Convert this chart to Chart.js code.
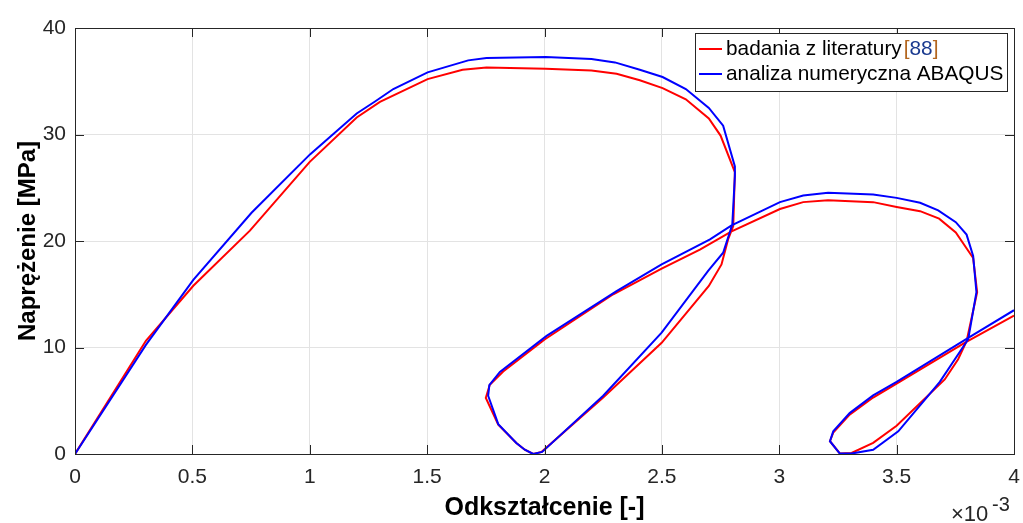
<!DOCTYPE html>
<html>
<head>
<meta charset="utf-8">
<script src="https://cdn.jsdelivr.net/npm/chart.js@4.4.1/dist/chart.umd.min.js"></script>
<style>
  html, body { margin: 0; padding: 0; background: #fff; }
  #wrap { width: 1023px; height: 523px; position: relative; }
</style>
</head>
<body>
<div id="wrap"><canvas id="stressChart" width="1023" height="523"></canvas></div>
<script>
// strain values are in units of 1e-3 (axis shows "x10^-3"), stress in MPa
const literatureStrain = [0, 0.302, 0.504, 0.745, 1.0, 1.2, 1.299, 1.502, 1.651, 1.753, 2.005, 2.2, 2.307, 2.406, 2.503, 2.602, 2.7, 2.75, 2.811, 2.804, 2.782, 2.754, 2.7, 2.499, 2.25, 1.988, 1.952, 1.916, 1.88, 1.803, 1.75, 1.767, 1.824, 2.002, 2.293, 2.499, 2.662, 2.797, 3.003, 3.102, 3.208, 3.4, 3.5, 3.6, 3.681, 3.752, 3.826, 3.843, 3.798, 3.762, 3.705, 3.5, 3.4, 3.308, 3.258, 3.216, 3.23, 3.3, 3.4, 3.5, 3.795, 4.0];
const literatureStress = [0, 10.63, 15.8, 20.97, 27.43, 31.6, 33.06, 35.2, 36.08, 36.3, 36.18, 36.0, 35.7, 35.1, 34.36, 33.3, 31.5, 29.9, 26.46, 21.4, 20.15, 17.8, 15.78, 10.44, 5.3, 0.2, 0.0, 0.4, 1.04, 2.75, 5.26, 6.5, 7.75, 10.78, 15.0, 17.4, 19.2, 20.9, 23.0, 23.65, 23.83, 23.65, 23.2, 22.8, 22.1, 20.8, 18.4, 15.2, 10.6, 8.9, 7.0, 2.65, 1.05, 0.1, 0.05, 1.2, 2.0, 3.7, 5.3, 6.6, 10.5, 13.0];

const abaqusStrain = [0, 0.302, 0.504, 0.752, 1.001, 1.2, 1.278, 1.356, 1.502, 1.675, 1.753, 2.005, 2.2, 2.3, 2.406, 2.503, 2.602, 2.7, 2.761, 2.811, 2.811, 2.8, 2.761, 2.697, 2.499, 2.25, 1.99, 1.952, 1.916, 1.88, 1.803, 1.76, 1.765, 1.81, 2.009, 2.307, 2.499, 2.705, 2.797, 3.003, 3.102, 3.208, 3.4, 3.5, 3.6, 3.677, 3.752, 3.798, 3.826, 3.84, 3.805, 3.684, 3.507, 3.4, 3.308, 3.258, 3.216, 3.23, 3.3, 3.4, 3.5, 3.805, 4.0];
const abaqusStress = [0, 10.25, 16.35, 22.65, 28.13, 31.97, 33.1, 34.27, 35.83, 36.96, 37.18, 37.27, 37.08, 36.77, 36.08, 35.4, 34.27, 32.5, 30.83, 27.0, 26.1, 21.55, 18.9, 17.2, 11.4, 5.47, 0.2, 0.0, 0.4, 1.04, 2.8, 5.47, 6.47, 7.7, 11.09, 15.3, 17.8, 20.15, 21.46, 23.65, 24.27, 24.52, 24.37, 24.05, 23.59, 22.87, 21.77, 20.6, 18.6, 15.2, 10.78, 6.78, 2.13, 0.4, 0.04, 0.04, 1.2, 2.13, 3.84, 5.5, 6.78, 10.9, 13.5];

const seriesNames = ['badania z literatury', 'analiza numeryczna ABAQUS'];
const citation = '88';
const xTitle = 'Odkształcenie [-]';
const yTitle = 'Naprężenie [MPa]';

const FONT = '"Liberation Sans", Arial, Helvetica, sans-serif';
const AXIS_COLOR = '#262626';

function toPoints(xs, ys) {
    return xs.map((x, i) => ({ x: x, y: ys[i] }));
}

function noPadding(s) {
    s.paddingLeft = 0;
    s.paddingRight = 0;
    s.paddingTop = 0;
    s.paddingBottom = 0;
}

const frame = {
    id: 'frame',
    afterDatasetsDraw(chart) {
        const ctx = chart.ctx;
        const a = chart.chartArea;
        const xs = chart.scales.x;
        const ys = chart.scales.y;
        const tick = 9;
        ctx.save();
        ctx.strokeStyle = AXIS_COLOR;
        ctx.lineWidth = 1;
        ctx.beginPath();
        xs.ticks.forEach(t => {
            const px = Math.round(xs.getPixelForValue(t.value)) + 0.5;
            ctx.moveTo(px, a.bottom); ctx.lineTo(px, a.bottom - tick);
            ctx.moveTo(px, a.top); ctx.lineTo(px, a.top + tick);
        });
        ys.ticks.forEach(t => {
            const py = Math.round(ys.getPixelForValue(t.value)) + 0.5;
            ctx.moveTo(a.left, py); ctx.lineTo(a.left + tick, py);
            ctx.moveTo(a.right, py); ctx.lineTo(a.right - tick, py);
        });
        ctx.stroke();
        ctx.strokeRect(Math.round(a.left) + 0.5, Math.round(a.top) + 0.5,
            Math.round(a.right - a.left), Math.round(a.bottom - a.top));
        ctx.restore();
    },
    afterDraw(chart) {
        const ctx = chart.ctx;
        const a = chart.chartArea;
        ctx.save();

        // axis titles
        ctx.fillStyle = '#000';
        ctx.textAlign = 'center';
        ctx.textBaseline = 'middle';
        ctx.font = 'bold 25px ' + FONT;
        ctx.fillText(xTitle, (a.left + a.right) / 2, 508);
        ctx.font = 'bold 24px ' + FONT;
        ctx.translate(28, (a.top + a.bottom) / 2);
        ctx.rotate(-Math.PI / 2);
        ctx.fillText(yTitle, 0, 0);
        ctx.setTransform(1, 0, 0, 1, 0, 0);

        // exponent
        ctx.fillStyle = AXIS_COLOR;
        ctx.textAlign = 'left';
        ctx.textBaseline = 'alphabetic';
        ctx.font = '22px ' + FONT;
        ctx.fillText('\u00d710', 951, 521);
        ctx.font = '20px ' + FONT;
        ctx.fillText('-3', 992, 511);

        // legend
        const box = { x: 695, y: 33, w: 312, h: 58 };
        ctx.fillStyle = '#fff';
        ctx.fillRect(box.x, box.y, box.w, box.h);
        ctx.strokeStyle = AXIS_COLOR;
        ctx.lineWidth = 1;
        ctx.strokeRect(box.x + 0.5, box.y + 0.5, box.w, box.h);
        ctx.font = '20.8px ' + FONT;
        ctx.textBaseline = 'middle';
        chart.data.datasets.forEach((ds, i) => {
            const cy = 49 + i * 25;
            ctx.strokeStyle = ds.borderColor;
            ctx.lineWidth = 2;
            ctx.beginPath();
            ctx.moveTo(699, cy); ctx.lineTo(722, cy);
            ctx.stroke();
            ctx.fillStyle = '#000';
            let tx = 726;
            ctx.fillText(seriesNames[i], tx, cy);
            if (i === 0) {
                tx += ctx.measureText(seriesNames[i]).width + 2;
                ctx.fillStyle = '#b3661f';
                ctx.fillText('[', tx, cy);
                tx += ctx.measureText('[').width;
                ctx.fillStyle = '#1a3a8f';
                ctx.fillText(citation, tx, cy);
                tx += ctx.measureText(citation).width;
                ctx.fillStyle = '#b3661f';
                ctx.fillText(']', tx, cy);
            }
        });
        ctx.restore();
    }
};

new Chart(document.getElementById('stressChart'), {
    type: 'scatter',
    data: {
        datasets: [{
            label: seriesNames[0],
            data: toPoints(literatureStrain, literatureStress),
            borderColor: '#ff0000',
            backgroundColor: '#ff0000',
            borderWidth: 2,
            showLine: true,
            pointRadius: 0,
            tension: 0,
            order: 2
        }, {
            label: seriesNames[1],
            data: toPoints(abaqusStrain, abaqusStress),
            borderColor: '#0000ff',
            backgroundColor: '#0000ff',
            borderWidth: 2,
            showLine: true,
            pointRadius: 0,
            tension: 0,
            order: 1
        }]
    },
    plugins: [frame],
    options: {
        responsive: false,
        animation: false,
        devicePixelRatio: 1,
        layout: { padding: { left: 0, right: 9, top: 28, bottom: 0 } },
        plugins: { legend: { display: false }, tooltip: { enabled: false } },
        scales: {
            x: {
                type: 'linear',
                min: 0,
                max: 4,
                afterFit: s => { s.height = 69; noPadding(s); },
                grid: { color: '#e3e3e3', drawTicks: false },
                border: { display: false },
                ticks: {
                    stepSize: 0.5,
                    padding: 11,
                    color: AXIS_COLOR,
                    font: { family: FONT, size: 21 },
                    maxRotation: 0,
                    callback: v => String(v)
                }
            },
            y: {
                type: 'linear',
                min: 0,
                max: 40,
                afterFit: s => { s.width = 75; noPadding(s); },
                grid: { color: '#e3e3e3', drawTicks: false },
                border: { display: false },
                ticks: {
                    stepSize: 10,
                    padding: 9,
                    color: AXIS_COLOR,
                    font: { family: FONT, size: 21 },
                    callback: v => String(v)
                }
            }
        }
    }
});
</script>
</body>
</html>
